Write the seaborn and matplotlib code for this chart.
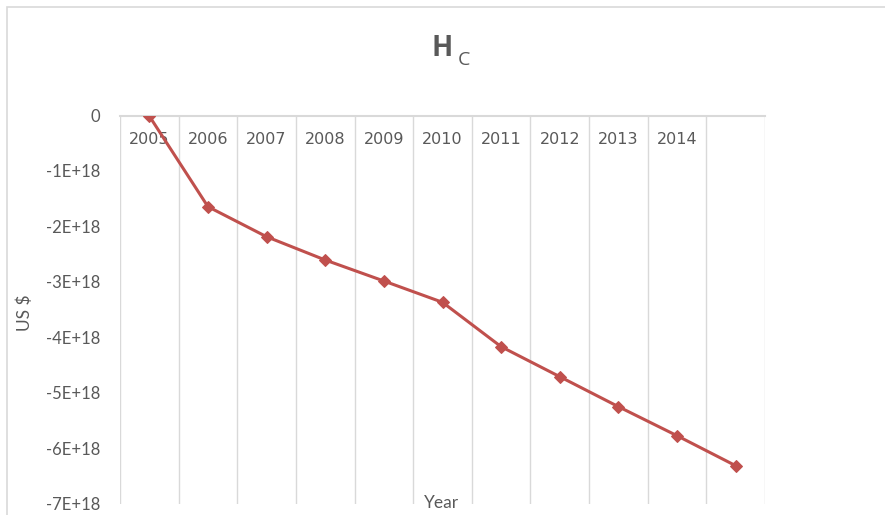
import matplotlib
matplotlib.use("Agg")
import matplotlib.pyplot as plt
import seaborn as sns
import pandas as pd
from matplotlib.patches import Rectangle
from matplotlib.ticker import FixedLocator

# ---- data ----
years = [2005, 2006, 2007, 2008, 2009, 2010, 2011, 2012, 2013, 2014, 2015]
year_labels = ["2005", "2006", "2007", "2008", "2009", "2010",
               "2011", "2012", "2013", "2014", ""]
hc_values = [-0.01e18, -1.645e18, -2.187e18, -2.607e18, -2.986e18, -3.370e18,
             -4.171e18, -4.712e18, -5.253e18, -5.777e18, -6.318e18]
y_ticks = [0, -1e18, -2e18, -3e18, -4e18, -5e18, -6e18, -7e18]
y_tick_labels = ["0", "-1E+18", "-2E+18", "-3E+18", "-4E+18", "-5E+18",
                 "-6E+18", "-7E+18"]

df = pd.DataFrame({"Year": years, "HC": hc_values})

sns.set_theme(style="white")
plt.rcParams["font.family"] = ["Lato", "DejaVu Sans"]

W, H = 885, 515
fig = plt.figure(figsize=(W / 100, H / 100), dpi=100)
ax = fig.add_axes([120 / W, 1 - 503.5 / H, (765 - 120) / W, (503.5 - 115.5) / H])

line_color = "#C0504D"
grid_color = "#D9D9D9"
text_color = "#595959"

sns.lineplot(data=df, x="Year", y="HC", ax=ax, color=line_color, linewidth=2.2,
             marker="D", markersize=6.5, markeredgecolor=line_color, zorder=5)

ax.set_xlim(years[0] - 0.5, years[-1] + 0.5)
ax.set_ylim(y_ticks[-1], y_ticks[0])

# category gridlines between the categories
bounds = [y - 0.5 for y in years] + [years[-1] + 0.5]
ax.xaxis.set_minor_locator(FixedLocator(bounds))
ax.grid(False)
ax.grid(True, which="minor", axis="x", color=grid_color, linewidth=1.0)
ax.set_xticks(years)
ax.set_xticklabels(year_labels)
ax.tick_params(axis="x", which="both", length=0, top=False, bottom=False,
               labeltop=True, labelbottom=False, pad=-23,
               labelcolor=text_color)
for lab in ax.get_xticklabels():
    lab.set_family(["DejaVu Sans"])
    lab.set_fontsize(11.5)

ax.set_yticks(y_ticks)
ax.set_yticklabels(y_tick_labels)
ax.tick_params(axis="y", length=0, pad=14, labelsize=12, labelcolor=text_color)
for lab in ax.get_yticklabels():
    lab.set_family(["Lato", "DejaVu Sans"])

for s in ["left", "right", "bottom"]:
    ax.spines[s].set_visible(False)
ax.spines["top"].set_color(grid_color)
ax.spines["top"].set_linewidth(1.5)

ax.set_xlabel("Year", fontsize=12.5, color=text_color, family=["Lato", "DejaVu Sans"])
ax.xaxis.set_label_coords((442 - 120) / (765 - 120), 0.0)
ax.xaxis.label.set_va("center")
ax.set_ylabel("US $", fontsize=12.5, color=text_color, family=["Lato", "DejaVu Sans"])
ax.yaxis.set_label_coords(-(120 - 33) / (765 - 120), (503.5 - 313) / (503.5 - 115.5))

# title H with subscript C
fig.text(442 / W, 1 - 49 / H, "H", fontsize=20, fontweight="bold", color=text_color,
         ha="center", va="center", family=["Open Sans", "DejaVu Sans"])
fig.text(464 / W, 1 - 60 / H, "C", fontsize=14, color=text_color,
         ha="center", va="center", family=["Open Sans", "DejaVu Sans"])

# chart area border
fig.patches.append(Rectangle((7 / W, -0.1), 1.2, 1 - 7 / H + 0.1,
                             transform=fig.transFigure, fill=False,
                             edgecolor="#D9D9D9", linewidth=1.2))

fig.savefig("out.png", dpi=100)
